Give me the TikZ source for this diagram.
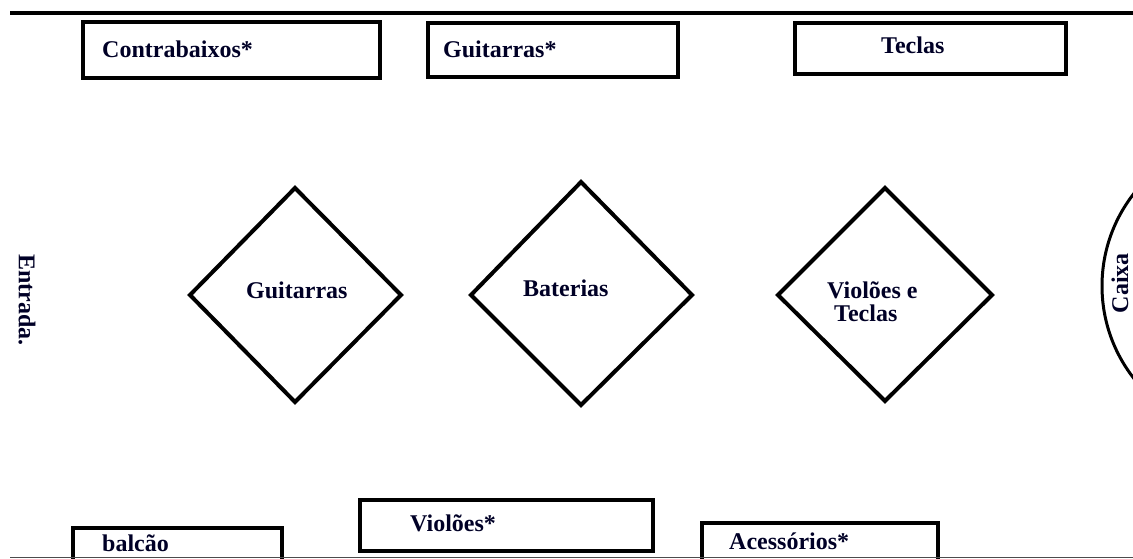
\documentclass[tikz,border=0pt]{standalone}
\usepackage{fontspec}
\setmainfont{Liberation Serif}
\begin{document}
\begin{tikzpicture}[x=1pt,y=-1pt,
  wall/.style={line width=3.5pt},
  counter/.style={line width=4pt, line join=miter},
  zone/.style={line width=4pt, line join=miter},
  lbl/.style={font=\bfseries\fontsize{24}{24}\selectfont, inner sep=0pt, text=black!85!blue},
  lblw/.style={lbl, anchor=base west}]
\useasboundingbox (0,0) rectangle (1133,559);
\begin{scope}
  \clip (0,0) rectangle (1133,559);
  % back wall
  \draw[wall] (10,13) -- (1133,13);
  % wall shelves (top row)
  \draw[counter] (83,22) rectangle (380,78);
  \draw[counter] (428,23) rectangle (678,77);
  \draw[counter] (795,23) rectangle (1066,74);
  % display islands
  \draw[zone] (190,295) -- (295,188) -- (401,295) -- (295,402) -- cycle;
  \draw[zone] (471,295) -- (581,182) -- (692,295) -- (581,405) -- cycle;
  \draw[zone] (778,295) -- (885,188) -- (992,295) -- (885,401) -- cycle;
  % cashier
  \draw[line width=3pt] (1252,286) circle (150);
  % front row
  \draw[counter] (73,528) rectangle (282,580);
  \draw[counter] (360,500) rectangle (653,551);
  \draw[counter] (702,523) rectangle (938,580);
  % front wall
  \draw[line width=1.6pt, black!70] (10,557.5) -- (1133,557.5);
\end{scope}
% labels
\node[lblw] (tContrabaixos) at (102,58) {Contrabaixos*};
\node[lblw] (tGuitarrasW) at (443,58) {Guitarras*};
\node[lblw] (tTeclasW) at (881,54) {Teclas};
\node[lblw] (tGuitarras) at (246,298) {Guitarras};
\node[lblw] (tBaterias) at (523,296) {Baterias};
\node[lblw] (tViolTec1) at (827,298) {Violões e};
\node[lblw] (tViolTec2) at (834,321) {Teclas};
\node[lblw] (tViolW) at (410,531) {Violões*};
\node[lblw] (tAcess) at (729,549) {Acessórios*};
\node[lblw] (tBalcao) at (102,551) {balcão};
\node[lbl, rotate=-90] (tEntrada) at (27,300) {Entrada.};
\node[lbl, rotate=90] (tCaixa) at (1120,283) {Caixa};
\end{tikzpicture}
\end{document}
